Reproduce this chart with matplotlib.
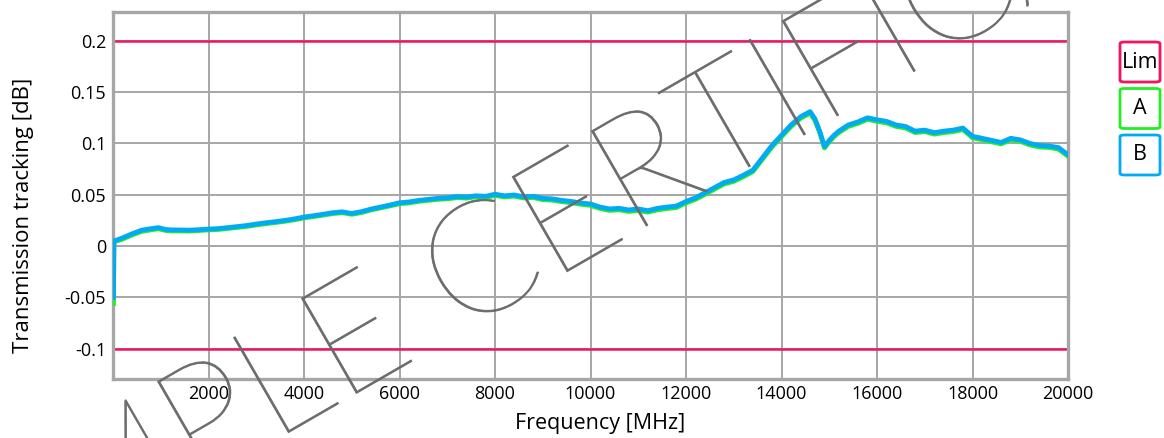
import matplotlib
matplotlib.use("Agg")
import matplotlib.pyplot as plt
import matplotlib.patheffects as pe
from matplotlib.patches import FancyBboxPatch

plt.rcParams['font.family'] = ['Open Sans', 'DejaVu Sans']

# Data
freq = [10, 20, 200, 400, 600, 800, 950, 1100, 1200, 1400, 1600, 1800, 2000,
        2200, 2400, 2600, 2800, 3000, 3200, 3400, 3600, 3800, 4000, 4200, 4400,
        4600, 4800, 5000, 5200, 5400, 5600, 5800, 6000, 6200, 6400, 6600, 6800,
        7000, 7200, 7400, 7600, 7800, 8000, 8200, 8400, 8600, 8800, 9000, 9200,
        9400, 9600, 9800, 10000, 10200, 10400, 10600, 10800, 11000, 11200, 11400,
        11600, 11800, 12000, 12200, 12400, 12600, 12800, 13000, 13200, 13400,
        13600, 13800, 14000, 14200, 14400, 14600, 14700, 14800, 14900, 15000,
        15100, 15200, 15400, 15600, 15800, 16000, 16200, 16400, 16600, 16800,
        17000, 17200, 17400, 17600, 17800, 18000, 18200, 18400, 18600, 18800,
        19000, 19200, 19400, 19600, 19800, 20000]

trace_b = [-0.050, 0.005, 0.008, 0.012, 0.0155, 0.017, 0.018, 0.0162, 0.0158, 0.0157,
           0.0155, 0.016, 0.0166, 0.017, 0.018, 0.019, 0.020, 0.0215, 0.0227,
           0.0238, 0.025, 0.0265, 0.0283, 0.0296, 0.031, 0.0325, 0.0334, 0.0318,
           0.0335, 0.036, 0.038, 0.040, 0.0422, 0.043, 0.0445, 0.0455, 0.0465,
           0.047, 0.0482, 0.0478, 0.049, 0.0485, 0.0505, 0.049, 0.0498, 0.048,
           0.0485, 0.0465, 0.046, 0.0445, 0.0435, 0.042, 0.041, 0.038, 0.0362,
           0.0368, 0.0352, 0.0362, 0.0345, 0.0368, 0.038, 0.039, 0.0435, 0.047,
           0.052, 0.057, 0.062, 0.0645, 0.069, 0.074, 0.086, 0.098, 0.108, 0.118,
           0.126, 0.131, 0.124, 0.112, 0.097, 0.103, 0.108, 0.112, 0.118, 0.121,
           0.125, 0.123, 0.1215, 0.118, 0.1165, 0.112, 0.113, 0.1105, 0.112,
           0.113, 0.115, 0.107, 0.105, 0.103, 0.101, 0.105, 0.1035, 0.100, 0.098,
           0.0975, 0.096, 0.089]

trace_a = [-0.056, 0.004, 0.0068, 0.0108, 0.0143, 0.0158, 0.0168, 0.0152, 0.0148, 0.0147,
           0.0146, 0.0151, 0.0157, 0.0161, 0.0171, 0.0181, 0.0191, 0.0206, 0.0218,
           0.0229, 0.0241, 0.0256, 0.0274, 0.0287, 0.0301, 0.0316, 0.0325, 0.0309,
           0.0326, 0.0351, 0.0371, 0.0391, 0.0412, 0.042, 0.0435, 0.0445, 0.0455,
           0.046, 0.0471, 0.0467, 0.0479, 0.0474, 0.0493, 0.0478, 0.0486, 0.0468,
           0.0473, 0.0452, 0.0447, 0.0432, 0.0422, 0.0407, 0.0396, 0.0366, 0.0347,
           0.0353, 0.0337, 0.0346, 0.033, 0.0352, 0.0365, 0.0375, 0.042, 0.0455,
           0.0505, 0.0555, 0.0605, 0.063, 0.0675, 0.0725, 0.0845, 0.0965, 0.1065, 0.1165,
           0.1245, 0.1295, 0.1225, 0.1105, 0.0955, 0.1015, 0.1065, 0.1105, 0.1165, 0.1195,
           0.1235, 0.1215, 0.12, 0.1165, 0.115, 0.1105, 0.1115, 0.109, 0.1105,
           0.1115, 0.1135, 0.1055, 0.1035, 0.1015, 0.0995, 0.1035, 0.102, 0.0985, 0.0965,
           0.096, 0.0945, 0.0875]

limits = [0.2, -0.1]
x_ticks = [2000, 4000, 6000, 8000, 10000, 12000, 14000, 16000, 18000, 20000]
y_ticks = [-0.1, -0.05, 0, 0.05, 0.1, 0.15, 0.2]
y_labels = ['-0.1', '-0.05', '0', '0.05', '0.1', '0.15', '0.2']
legend_labels = ['Lim', 'A', 'B']

lim_color = '#F2145C'
a_color = '#22EE22'
b_color = '#00AAF5'
grid_color = '#A6A6A6'

fig = plt.figure(figsize=(11.64, 4.38), dpi=100)
ax = fig.add_axes([113 / 1164, 1 - 379 / 438, 955 / 1164, 367 / 438])

for lim in limits:
    ax.axhline(lim, color=lim_color, lw=1.8, zorder=2)
ax.plot(freq, trace_a, color=a_color, lw=3.4, zorder=3)
ax.plot(freq, trace_b, color=b_color, lw=3.4, zorder=4)

ax.set_xlim(0, 20000)
ax.set_ylim(-0.1295, 0.228)
ax.set_xticks(x_ticks)
ax.set_xticklabels([str(t) for t in x_ticks])
ax.set_yticks(y_ticks)
ax.set_yticklabels(y_labels)
ax.tick_params(length=0, labelsize=13)
ax.tick_params(axis='x', pad=4)
ax.tick_params(axis='y', pad=5)
ax.grid(True, color=grid_color, lw=1.4)
ax.set_axisbelow(True)
for s in ax.spines.values():
    s.set_color(grid_color)
    s.set_linewidth(2.4)

ax.set_xlabel('Frequency [MHz]', fontsize=15.5, va='center')
ax.xaxis.set_label_coords(0.51, -0.1226)
ax.set_ylabel('Transmission tracking [dB]', fontsize=16, va='center')
ax.yaxis.set_label_coords(-0.094, 0.447)

# legend boxes on the right
colors = [lim_color, a_color, b_color]
for i, (lab, c) in enumerate(zip(legend_labels, colors)):
    top = 42 + i * 46.5
    x0, y0 = 1120 / 1164, 1 - (top + 40) / 438
    box = FancyBboxPatch((x0, y0), 40 / 1164, 40 / 438, transform=fig.transFigure,
                         boxstyle='round,pad=0,rounding_size=0.004',
                         fc='white', ec=c, lw=2)
    fig.patches.append(box)
    fig.text(x0 + 20 / 1164, y0 + 20 / 438, lab, ha='center', va='center', fontsize=15.5)

# watermark
fig.text(0.4906, 0.4966, 'SAMPLE CERTIFICATE', rotation=30, ha='center', va='center',
         fontsize=113, family=['Lato', 'DejaVu Sans'], fontweight=100,
         color='#6A6A6A', alpha=0.85, zorder=10,
         path_effects=[pe.withStroke(linewidth=0.6, foreground='#6A6A6A')])

fig.savefig('out.png', dpi=100)
